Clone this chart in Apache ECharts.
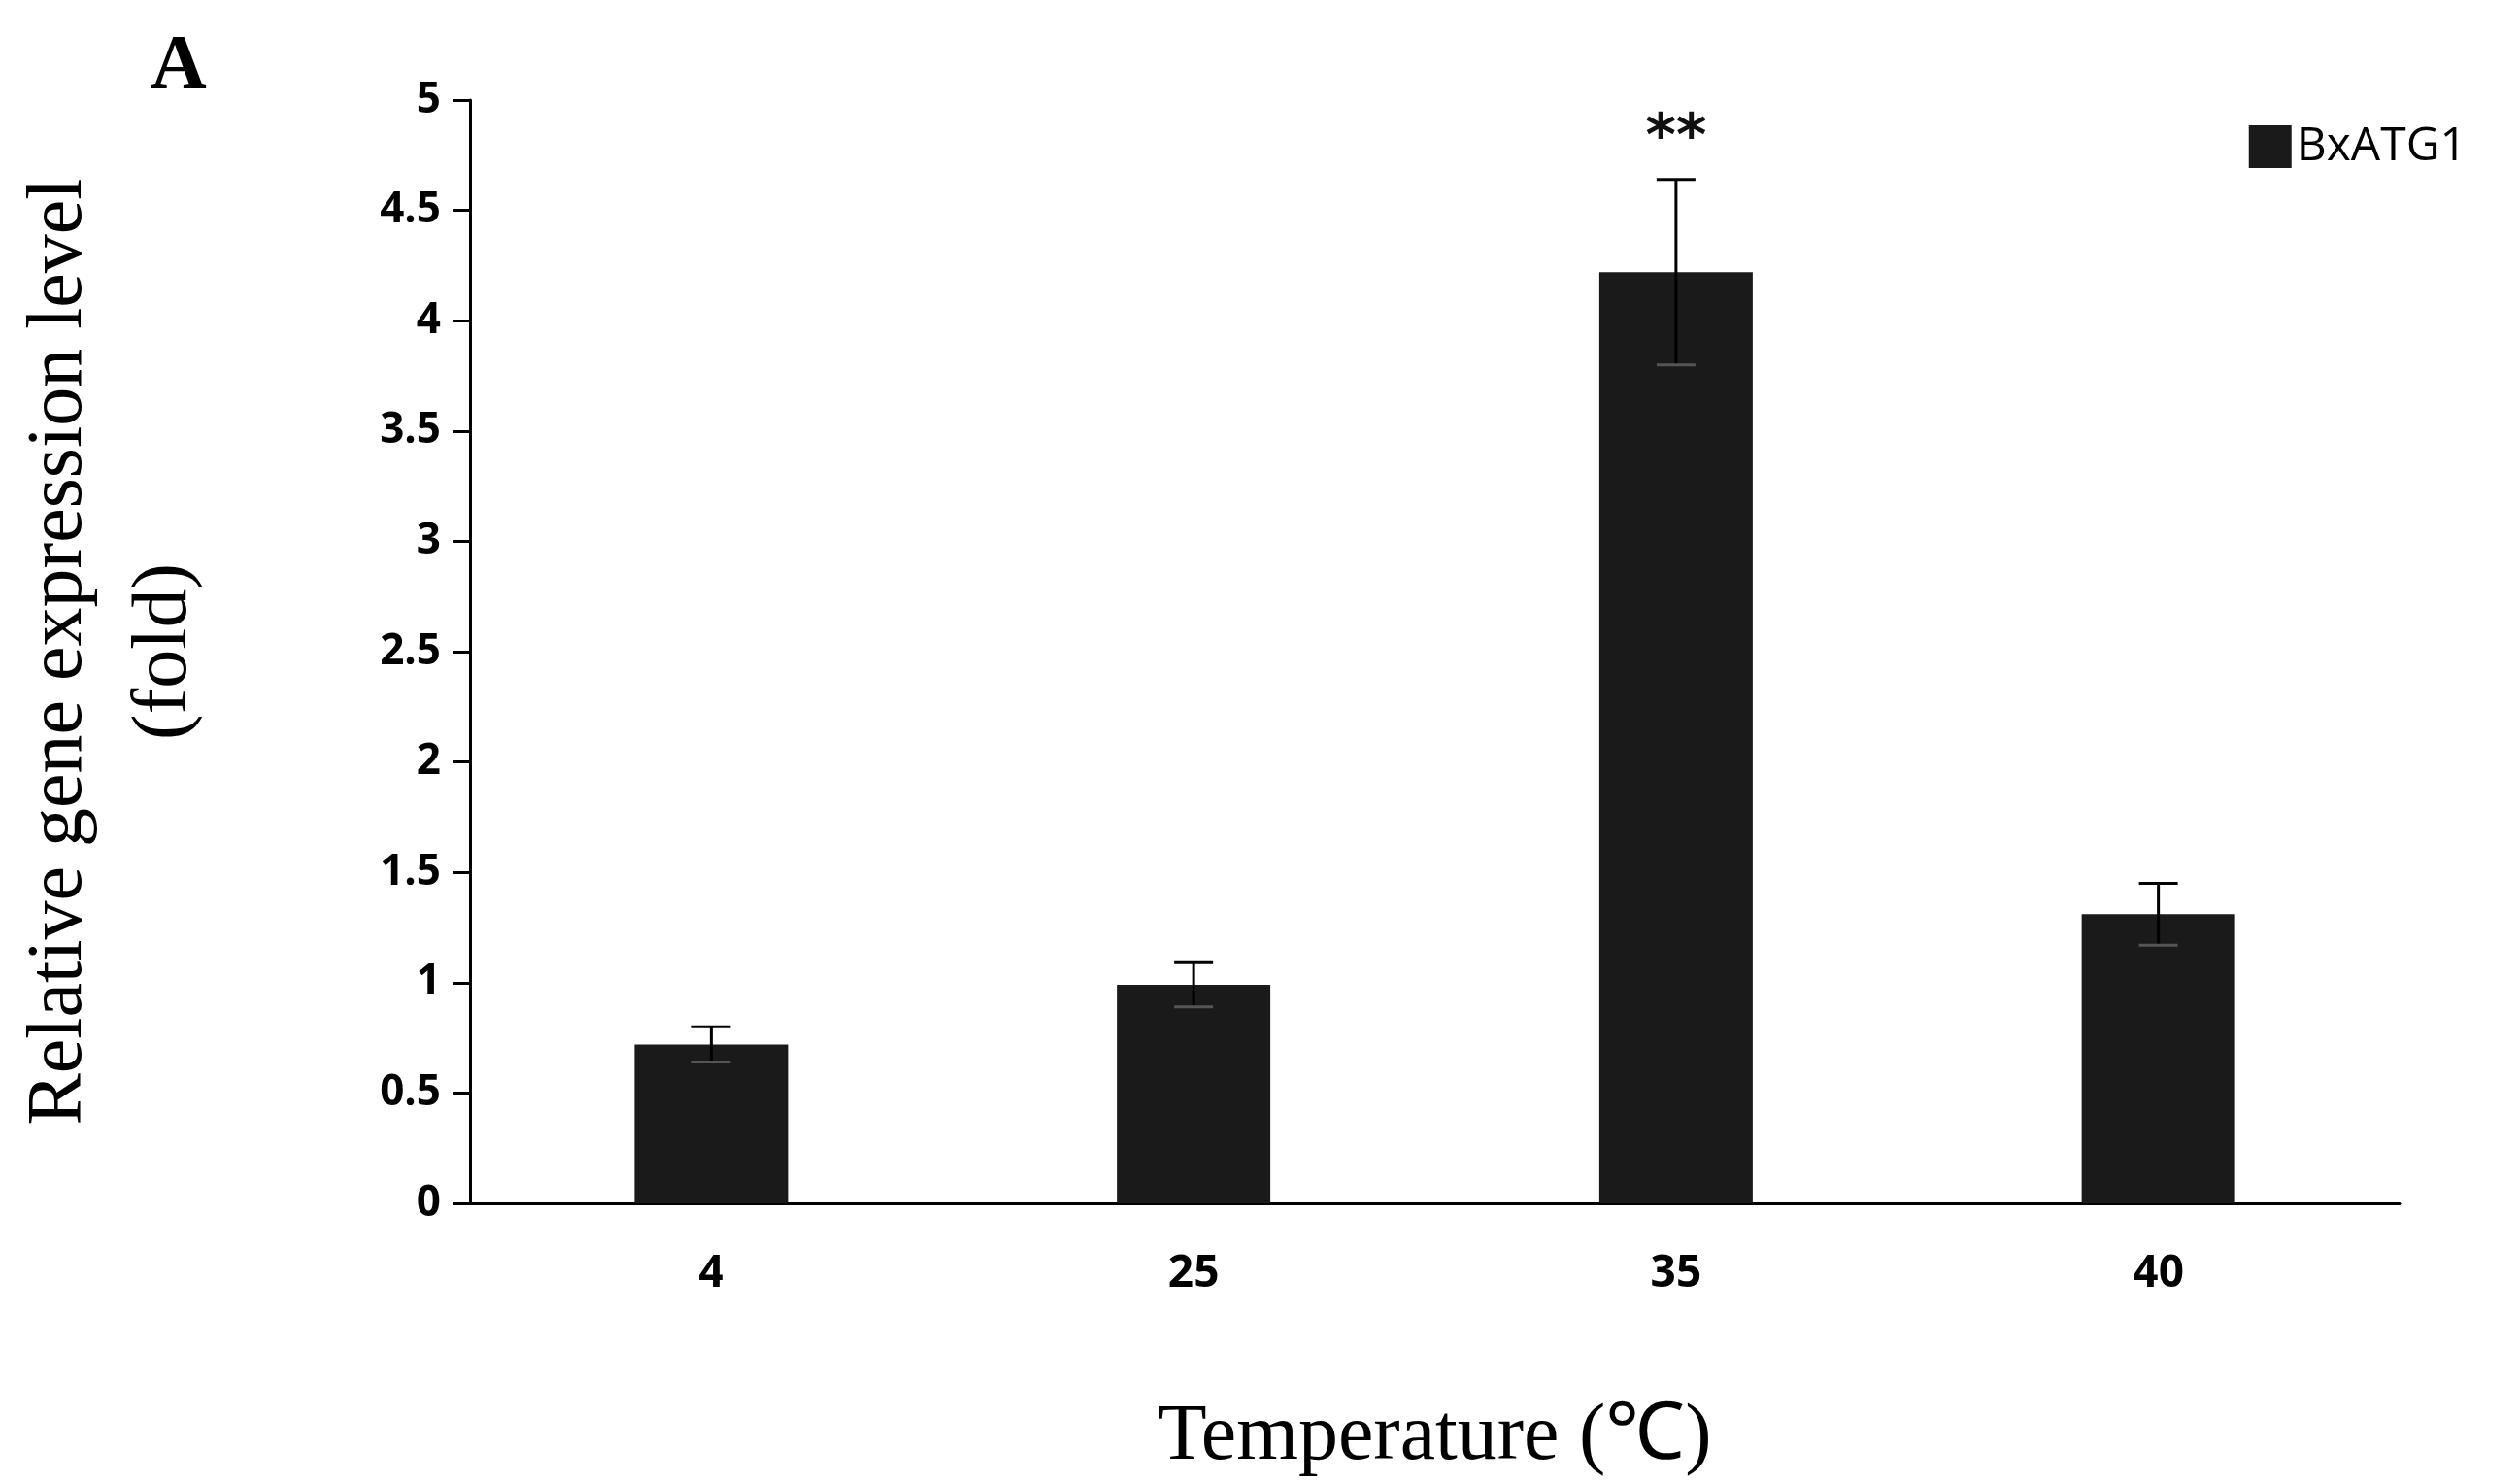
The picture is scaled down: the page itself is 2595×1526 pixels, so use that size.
<!DOCTYPE html>
<html>
<head>
<meta charset="utf-8">
<script src="https://cdn.jsdelivr.net/npm/echarts@6/dist/echarts.min.js"></script>
<style>html,body{margin:0;background:#fff}#chart{width:2595px;height:1526px}</style>
</head>
<body>
<div id="chart"></div>
<script>
// data
var categories = ['4', '25', '35', '40'];
var values = [0.72, 0.99, 4.22, 1.31];
var errors = [0.08, 0.10, 0.42, 0.14];
var marks = ['', '', '**', ''];
var yTicks = ['0', '0.5', '1', '1.5', '2', '2.5', '3', '3.5', '4', '4.5', '5'];

var chart = echarts.init(document.getElementById('chart'));

var errData = values.map(function(v, i){ return [i, v - errors[i], v + errors[i], marks[i]]; });

chart.setOption({
	animation: false,
	grid: {left: 414, right: 124, top: 103, bottom: 281},
	title: {text: 'A', left: 150, top: 25,
		textStyle: {fontFamily: 'Liberation Serif', fontWeight: 'bold', fontSize: 80, color: '#000'}},
	legend: {right: 50, top: 122, itemWidth: 44, itemHeight: 44, itemGap: 14,
		textStyle: {fontFamily: 'Open Sans', fontSize: 48, color: '#000'},
		data: [{name: 'BxATG1', icon: 'rect'}]},
	xAxis: {
		type: 'category', data: categories,
		name: 'Temperature (\u2103)', nameLocation: 'middle', nameGap: 200,
		nameTextStyle: {fontFamily: 'Liberation Serif', fontSize: 82, color: '#000'},
		axisLine: {lineStyle: {color: '#000', width: 3}},
		axisTick: {inside: true, length: 16, lineStyle: {color: '#000', width: 3}},
		axisLabel: {margin: 50, fontFamily: 'Open Sans', fontWeight: 'bold', fontSize: 46, color: '#000'}
	},
	yAxis: {
		type: 'value', min: 0, max: 5, interval: 0.5,
		name: 'Relative gene expression level\n(fold)', nameLocation: 'middle', nameGap: 260,
		nameTextStyle: {fontFamily: 'Liberation Serif', fontSize: 80, color: '#000', lineHeight: 108},
		splitLine: {show: false},
		axisLine: {show: true, lineStyle: {color: '#000', width: 3}},
		axisTick: {show: true, length: 18, lineStyle: {color: '#000', width: 3}},
		axisLabel: {margin: 30, fontFamily: 'Open Sans', fontWeight: 'bold', fontSize: 44, color: '#000',
			formatter: function(v){ var i = Math.round(v * 2); return yTicks[i]; }}
	},
	series: [{
		name: 'BxATG1', type: 'bar', data: values, barWidth: 158, barCategoryGap: '0%',
		itemStyle: {color: '#1a1a1a'}
	}, {
		type: 'custom', data: errData, z: 5,
		renderItem: function(params, api){
			var x = api.value(0);
			var lo = api.coord([x, api.value(1)]);
			var hi = api.coord([x, api.value(2)]);
			var w = 20;
			var st = {stroke: '#000', lineWidth: 3};
			var kids = [
				{type: 'line', shape: {x1: hi[0], y1: lo[1], x2: hi[0], y2: hi[1]}, style: st},
				{type: 'line', shape: {x1: hi[0] - w, y1: hi[1], x2: hi[0] + w, y2: hi[1]}, style: st},
				{type: 'line', shape: {x1: hi[0] - w, y1: lo[1], x2: hi[0] + w, y2: lo[1]}, style: {stroke: '#555', lineWidth: 3}}
			];
			if (api.value(3)) {
				kids.push({type: 'text', style: {text: '**', x: hi[0], y: hi[1] - 10,
					align: 'center', verticalAlign: 'bottom', fill: '#111',
					font: 'bold 60px "DejaVu Sans"'}});
			}
			return {type: 'group', children: kids};
		}
	}]
});
</script>
</body>
</html>
